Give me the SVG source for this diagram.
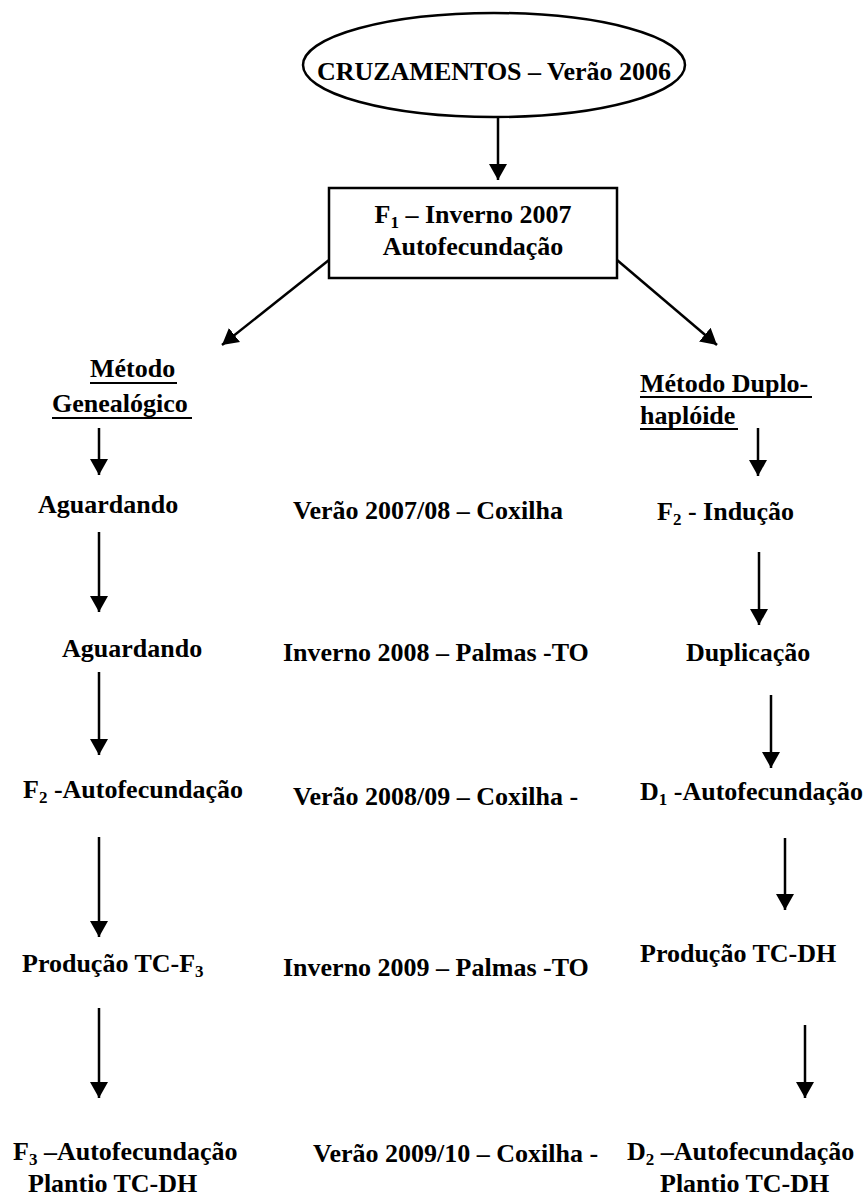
<svg xmlns="http://www.w3.org/2000/svg" width="863" height="1199" viewBox="0 0 863 1199">
<style>
text{font-family:'Liberation Serif','Times New Roman','DejaVu Serif',serif;font-weight:700;font-size:26px;fill:#000}
.s{font-size:17px}
.ln{stroke:#000;stroke-width:2.5;fill:none}
.ul{stroke:#000;stroke-width:2}
.shape{fill:#fff;stroke:#000;stroke-width:2.5}
</style>
<defs>
<marker id="ah" viewBox="0 0 16 18" refX="16" refY="9" markerWidth="16" markerHeight="18" markerUnits="userSpaceOnUse" orient="auto">
<path d="M0,0 L16,9 L0,18 z" fill="#000"/>
</marker>
</defs>
<rect width="863" height="1199" fill="#fff"/>
<g id="connectors">
<line class="ln" x1="498" y1="117" x2="498" y2="180" marker-end="url(#ah)"/>
<line class="ln" x1="329" y1="260" x2="222" y2="345" marker-end="url(#ah)"/>
<line class="ln" x1="617" y1="260" x2="717" y2="345" marker-end="url(#ah)"/>
<line class="ln" x1="99" y1="428" x2="99" y2="475" marker-end="url(#ah)"/>
<line class="ln" x1="99" y1="532" x2="99" y2="612" marker-end="url(#ah)"/>
<line class="ln" x1="99" y1="672" x2="99" y2="755" marker-end="url(#ah)"/>
<line class="ln" x1="99" y1="837" x2="99" y2="937" marker-end="url(#ah)"/>
<line class="ln" x1="99" y1="1008" x2="99" y2="1098" marker-end="url(#ah)"/>
<line class="ln" x1="758" y1="428" x2="758" y2="476" marker-end="url(#ah)"/>
<line class="ln" x1="759" y1="552" x2="759" y2="625" marker-end="url(#ah)"/>
<line class="ln" x1="771" y1="695" x2="771" y2="768" marker-end="url(#ah)"/>
<line class="ln" x1="785" y1="838" x2="785" y2="910" marker-end="url(#ah)"/>
<line class="ln" x1="805" y1="1025" x2="805" y2="1098" marker-end="url(#ah)"/>
</g>
<g id="cruzamentos">
<ellipse class="shape" cx="494" cy="65" rx="191" ry="52"/>
<text x="494" y="80" text-anchor="middle">CRUZAMENTOS – Verão 2006</text>
</g>
<g id="f1">
<rect class="shape" x="329" y="188" width="288" height="90"/>
<text x="473" y="223" text-anchor="middle">F<tspan class="s" dy="5">1</tspan><tspan dy="-5"> – Inverno 2007</tspan></text>
<text x="473" y="255" text-anchor="middle">Autofecundação</text>
</g>
<g id="metodo-genealogico">
<text x="90" y="377">Método</text>
<line class="ul" x1="90" y1="383" x2="177" y2="383"/>
<text x="52" y="412">Genealógico</text>
<line class="ul" x1="52" y1="418" x2="192" y2="418"/>
</g>
<g id="metodo-duplo">
<text x="640" y="392">Método Duplo-</text>
<line class="ul" x1="640" y1="397" x2="812" y2="397"/>
<text x="640" y="424">haplóide</text>
<line class="ul" x1="640" y1="429" x2="738" y2="429"/>
</g>
<g id="l1"><text x="38" y="513">Aguardando</text></g>
<g id="l2"><text x="62" y="657">Aguardando</text></g>
<g id="l3"><text x="23" y="798">F<tspan class="s" dy="5">2</tspan><tspan dy="-5"> -Autofecundação</tspan></text></g>
<g id="l4"><text x="22" y="972">Produção TC-F<tspan class="s" dy="5">3</tspan></text></g>
<g id="l5">
<text x="13" y="1160">F<tspan class="s" dy="5">3</tspan><tspan dy="-5"> –Autofecundação</tspan></text>
<text x="28" y="1192">Plantio TC-DH</text>
</g>
<g id="m1"><text x="293" y="519">Verão 2007/08 – Coxilha</text></g>
<g id="m2"><text x="283" y="661">Inverno 2008 – Palmas -TO</text></g>
<g id="m3"><text x="293" y="805">Verão 2008/09 – Coxilha -</text></g>
<g id="m4"><text x="283" y="976">Inverno 2009 – Palmas -TO</text></g>
<g id="m5"><text x="313" y="1162">Verão 2009/10 – Coxilha -</text></g>
<g id="r1"><text x="657" y="520">F<tspan class="s" dy="5">2</tspan><tspan dy="-5"> - Indução</tspan></text></g>
<g id="r2"><text x="686" y="661">Duplicação</text></g>
<g id="r3"><text x="640" y="800">D<tspan class="s" dy="5">1</tspan><tspan dy="-5"> -Autofecundação</tspan></text></g>
<g id="r4"><text x="640" y="962">Produção TC-DH</text></g>
<g id="r5">
<text x="627" y="1160">D<tspan class="s" dy="5">2</tspan><tspan dy="-5"> –Autofecundação</tspan></text>
<text x="660" y="1192">Plantio TC-DH</text>
</g>
</svg>
